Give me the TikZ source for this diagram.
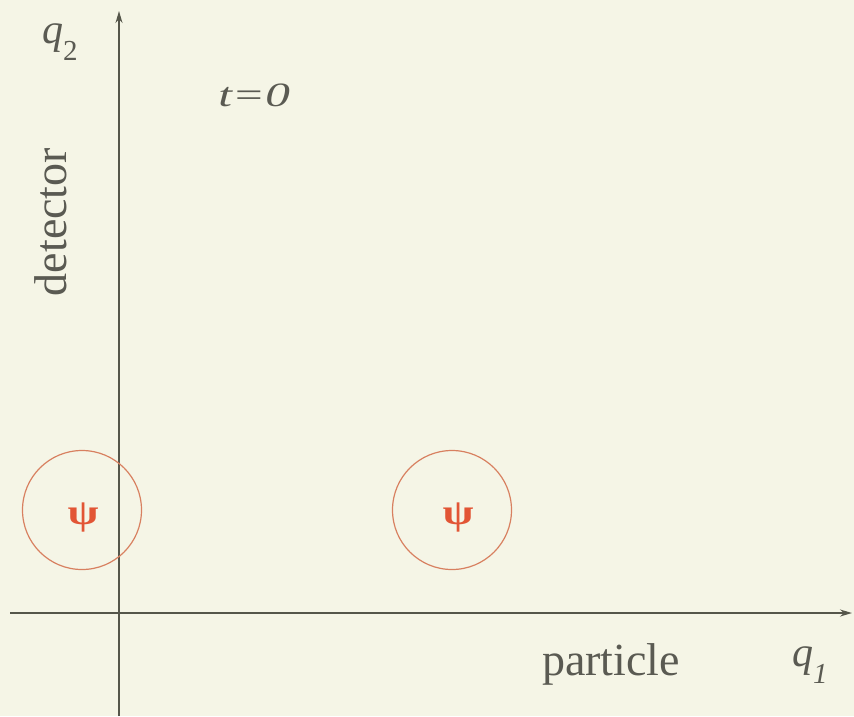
\documentclass[tikz,border=0pt]{standalone}
\usepackage{fontspec}
\setmainfont{Liberation Serif}
\usetikzlibrary{arrows.meta}
\definecolor{bgcol}{HTML}{F5F5E6}
\definecolor{axcol}{HTML}{55564A}
\definecolor{psired}{HTML}{E25535}
\definecolor{circcol}{HTML}{D88060}
\definecolor{txtcol}{HTML}{5A5A52}
\newcommand{\subsc}[1]{\raisebox{-0.42em}{\fontsize{29}{29}\selectfont #1}}
\begin{document}
\begin{tikzpicture}[x=1pt,y=-1pt,
  axis/.style={draw=axcol, line width=1.6pt, -{Stealth[length=12pt,width=7pt]}},
  wave/.style={draw=circcol, line width=1.2pt, circle, minimum size=119pt, inner sep=0pt},
  psilbl/.style={text=psired, inner sep=0pt, xscale=1.25, font=\bfseries\fontsize{36}{36}\selectfont},
  lbl/.style={text=txtcol, inner sep=0pt, font=\fontsize{46}{46}\selectfont}]
\fill[bgcol] (0,0) rectangle (854,716);
\useasboundingbox (0,0) rectangle (854,716);
\coordinate (ybot) at (119,716);
\coordinate (ytop) at (119,11);
\coordinate (xleft) at (10,613);
\coordinate (xright) at (852,613);
\draw[axis] (ybot) -- (ytop);
\draw[axis] (xleft) -- (xright);
\node[wave] (c1) at (82,510) {};
\node[wave] (c2) at (452,510) {};
\node[psilbl] (psi1) at (83,517) {ψ};
\node[psilbl] (psi2) at (458,517) {ψ};
\node[lbl, anchor=base west, font=\fontsize{42}{42}\selectfont] (q2) at (42,43) {\itshape q\subsc{\upshape 2}};
\node[lbl, anchor=base west, font=\fontsize{34}{34}\selectfont, xscale=1.45] (t0) at (218,106) {\itshape t=0};
\node[lbl, rotate=90, anchor=base] (det) at (66,222) {detector};
\node[lbl, anchor=base] (part) at (611,675) {particle};
\node[lbl, anchor=base west, font=\fontsize{42}{42}\selectfont] (q1) at (792,666) {\itshape q\subsc{1}};
\end{tikzpicture}
\end{document}
